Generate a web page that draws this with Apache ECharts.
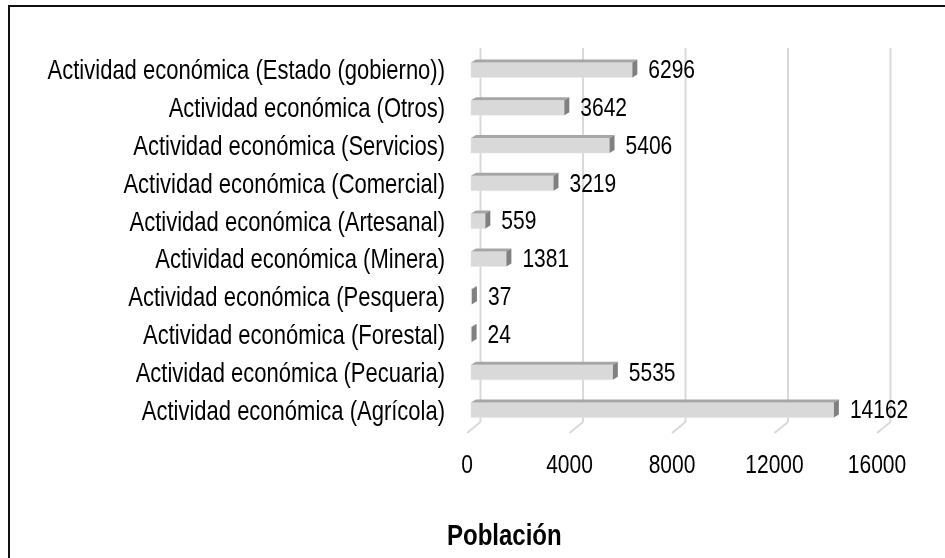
<!DOCTYPE html>
<html>
<head>
<meta charset="utf-8">
<script src="https://cdn.jsdelivr.net/npm/echarts@6/dist/echarts.min.js"></script>
<style>
  html, body { margin: 0; padding: 0; background: #fff; }
  #chart { width: 945px; height: 558px; }
</style>
</head>
<body>
<div id="chart"></div>
<script>
// categories from bottom to top
const categories = [
  'Actividad económica (Agrícola)',
  'Actividad económica (Pecuaria)',
  'Actividad económica (Forestal)',
  'Actividad económica (Pesquera)',
  'Actividad económica (Minera)',
  'Actividad económica (Artesanal)',
  'Actividad económica (Comercial)',
  'Actividad económica (Servicios)',
  'Actividad económica (Otros)',
  'Actividad económica (Estado (gobierno))'
];
const poblacion = [14162, 5535, 24, 37, 1381, 559, 3219, 5406, 3642, 6296];
const ticks = [0, 4000, 8000, 12000, 16000];

const FONT = 'Liberation Sans';
const depthX = 5, depthY = 3;
const STRETCH = 1.25; // text in the original is a bit taller than wide

const chartDom = document.getElementById('chart');
const chart = echarts.init(chartDom);

const tallText = (x, y, text, size, align) => ({
  type: 'text',
  x: x, y: y,
  scaleY: STRETCH,
  style: { x: 0, y: 0, text: text, fill: '#000', font: size + 'px "' + FONT + '"',
    verticalAlign: 'middle', align: align }
});

// back wall gridlines + slanted floor lines + tick label
const renderGrid = (params, api) => {
  const cs = params.coordSys;
  const v = api.value(0);
  const x = api.coord([v, 0])[0];
  const bottom = cs.y + cs.height;
  return {
    type: 'group',
    children: [
      { type: 'line', shape: { x1: x + 13.5, y1: cs.y - 3, x2: x + 13.5, y2: bottom - 7 },
        style: { stroke: '#d9d9d9', lineWidth: 2 } },
      { type: 'line', shape: { x1: x + 13.5, y1: bottom - 7, x2: x, y2: bottom + 4 },
        style: { stroke: '#d9d9d9', lineWidth: 2 } },
      tallText(x, bottom + 37, String(v), 21, 'center')
    ]
  };
};

// 3d-looking bar: front face, top face, end face, value and category label
const renderBar = (params, api) => {
  const idx = api.value(0);
  const val = api.value(1);
  const p0 = api.coord([0, idx]);
  const p1 = api.coord([val, idx]);
  const h = 15;
  const xs = p0[0] + 4, xe = p1[0] + 4;
  const yt = p0[1] - h / 2, yb = p0[1] + h / 2;
  return {
    type: 'group',
    children: [
      { type: 'rect', shape: { x: xs, y: yt, width: Math.max(xe - xs, 0.5), height: h },
        style: { fill: '#d9d9d9', stroke: '#e6e6e6', lineWidth: 0.5 } },
      { type: 'polygon', shape: { points: [[xs, yt], [xe, yt], [xe + depthX, yt - depthY], [xs + depthX, yt - depthY]] },
        style: { fill: '#a6a6a6' } },
      { type: 'polygon', shape: { points: [[xe, yt], [xe + depthX, yt - depthY], [xe + depthX, yb - depthY], [xe, yb]] },
        style: { fill: '#808080' } },
      tallText(xe + depthX + 11, p0[1] + 1, String(val), 21, 'left'),
      tallText(p0[0] - 22, p0[1] + 2, categories[idx], 22, 'right')
    ]
  };
};

const option = {
  animation: false,
  backgroundColor: '#fff',
  graphic: [
    { type: 'rect', shape: { x: 9, y: 6, width: 2000, height: 2000 },
      style: { fill: 'none', stroke: '#111', lineWidth: 2 }, z: 100 },
    { type: 'text', x: 447, y: 537, scaleY: STRETCH,
      style: { x: 0, y: 0, text: 'Población', fill: '#000', verticalAlign: 'middle',
        font: 'bold 24px "' + FONT + '"' } }
  ],
  grid: { left: 467, right: 68, top: 51, bottom: 129 },
  xAxis: {
    type: 'value',
    min: 0,
    max: 16000,
    interval: 4000,
    axisLine: { show: false },
    axisTick: { show: false },
    splitLine: { show: false },
    axisLabel: { show: false }
  },
  yAxis: {
    type: 'category',
    data: categories,
    axisLine: { show: false },
    axisTick: { show: false },
    axisLabel: { show: false }
  },
  series: [
    {
      type: 'custom',
      renderItem: renderGrid,
      data: ticks.map(t => [t]),
      encode: { x: 0 },
      clip: false,
      z: 1
    },
    {
      type: 'custom',
      renderItem: renderBar,
      data: poblacion.map((v, i) => [i, v]),
      encode: { y: 0, x: 1 },
      clip: false,
      z: 2
    }
  ]
};
chart.setOption(option);
</script>
</body>
</html>
